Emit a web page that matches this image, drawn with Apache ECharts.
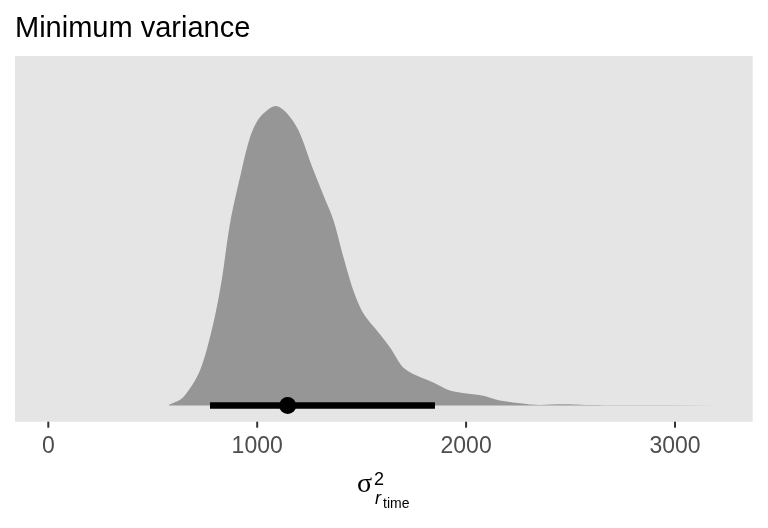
<!DOCTYPE html>
<html>
<head>
<meta charset="utf-8">
<script src="https://cdn.jsdelivr.net/npm/echarts@6/dist/echarts.min.js"></script>
<style>
  html, body { margin: 0; padding: 0; background: #ffffff; }
  #chart { width: 768px; height: 528px; }
</style>
</head>
<body>
<div id="chart"></div>
<script>
// posterior draws of sigma^2_r_time, density (scaled so peak = 1)
const densX = [578, 646, 726, 790, 830, 870, 918, 966, 1014, 1090, 1141, 1197, 1269,
  1317, 1365, 1413, 1460, 1508, 1572, 1636, 1699, 1763, 1843, 1923, 2003, 2082, 2162,
  2258, 2354, 2464, 2577, 2800, 3000, 3211];
const densY = [0.003, 0.028, 0.117, 0.274, 0.418, 0.609, 0.763, 0.896, 0.963, 1.0, 0.977,
  0.92, 0.786, 0.702, 0.619, 0.495, 0.385, 0.308, 0.251, 0.194, 0.127, 0.1, 0.077, 0.05,
  0.04, 0.033, 0.017, 0.008, 0.002, 0.004, 0.002, 0.001, 0.001, 0.001];

// point estimate (median) and 95% interval
const pointEst = [1146];
const interval = [774, 1851];

const tickLabels = [0, 1000, 2000, 3000];

const Y_MIN = -0.054;
const Y_MAX = 1.167;

const chart = echarts.init(document.getElementById("chart"));

const densData = densX.map((x, i) => [x, densY[i]]);

const option = {
  backgroundColor: "#ffffff",
  animation: false,
  textStyle: { fontFamily: "Liberation Sans, Arial, sans-serif" },
  title: {
    text: "Minimum variance",
    left: 10,
    top: 9,
    textStyle: { fontSize: 29, fontWeight: "normal", color: "#000000" },
  },
  grid: {
    left: 15,
    right: 15.3,
    top: 56,
    bottom: 106.3,
    show: true,
    backgroundColor: "#e5e5e5",
    borderWidth: 0,
  },
  xAxis: {
    type: "value",
    min: -159.4,
    max: 3372,
    axisLine: { show: false, onZero: false },
    splitLine: { show: false },
    axisTick: { show: false },
    axisLabel: {
      customValues: tickLabels,
      color: "#4d4d4d",
      fontSize: 23,
      margin: 13,
      formatter: (v) => String(v),
    },
  },
  yAxis: {
    type: "value",
    min: Y_MIN,
    max: Y_MAX,
    show: false,
    splitLine: { show: false },
  },
  series: [
    {
      name: "density",
      type: "line",
      data: densData,
      smooth: 0.3,
      symbol: "none",
      lineStyle: { width: 0 },
      areaStyle: { color: "#969696", opacity: 1, origin: 0 },
      z: 2,
    },
    {
      name: "interval",
      type: "line",
      data: interval.map((x) => [x, 0]),
      symbol: "none",
      lineStyle: { color: "#000000", width: 6.5, cap: "butt" },
      z: 3,
    },
    {
      name: "point",
      type: "scatter",
      data: pointEst.map((x) => [x, 0]),
      symbolSize: 17,
      itemStyle: { color: "#000000", opacity: 1 },
      z: 4,
    },
    {
      // ggplot-style outside ticks under the panel
      name: "ticks",
      type: "custom",
      clip: false,
      silent: true,
      data: tickLabels.map((v) => [v, Y_MIN]),
      renderItem: (params, api) => {
        const p = api.coord([api.value(0), api.value(1)]);
        return {
          type: "line",
          shape: { x1: p[0], y1: p[1], x2: p[0], y2: p[1] + 6 },
          style: { stroke: "#333333", lineWidth: 2 },
        };
      },
      z: 5,
    },
  ],
  graphic: [
    {
      type: "text",
      left: 357,
      top: 471,
      style: { text: "σ", fontSize: 28, fill: "#000000", fontFamily: "Liberation Serif, serif" },
    },
    {
      type: "text",
      left: 374,
      top: 471,
      style: { text: "2", fontSize: 18, fill: "#000000", fontFamily: "Liberation Sans, Arial, sans-serif" },
    },
    {
      type: "text",
      left: 375,
      top: 490,
      style: { text: "r", fontSize: 18, fontStyle: "italic", fill: "#000000", fontFamily: "Liberation Sans, Arial, sans-serif" },
    },
    {
      type: "text",
      left: 383,
      top: 497,
      style: { text: "time", fontSize: 14, fill: "#000000", fontFamily: "Liberation Sans, Arial, sans-serif" },
    },
  ],
};

chart.setOption(option);
</script>
</body>
</html>
